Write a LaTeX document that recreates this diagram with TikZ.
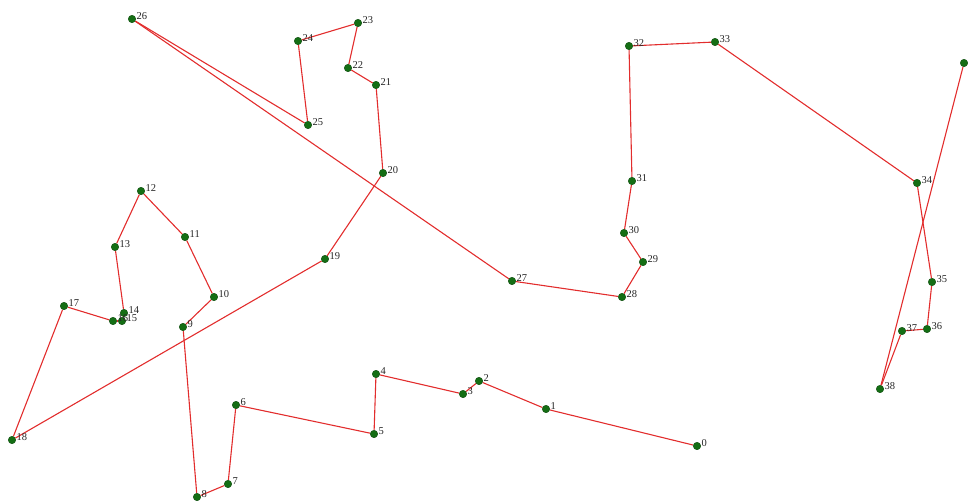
\documentclass[tikz,border=0pt]{standalone}
\usepackage{fontspec}
\setmainfont{Liberation Serif}
\usetikzlibrary{backgrounds}
\definecolor{tourred}{RGB}{226,45,45}
\definecolor{citygreen}{RGB}{20,110,20}

\begin{document}
\begin{tikzpicture}[
  x=1pt, y=-1pt,
  city/.style={circle, fill=citygreen, draw=citygreen!70!black, line width=0.4pt,
               inner sep=0pt, minimum size=7.5pt},
  tour/.style={draw=tourred, line width=1.1pt},
  num/.style={font=\fontsize{10.5}{10.5}\selectfont, text=black!85, anchor=base west, inner sep=0pt},
]

\useasboundingbox (0,0) rectangle (969,501);

% === Cities ===
\foreach \x/\y [count=\i from 0] in {
  697/446, 546/409, 479/381, 463/394, 376/374, 374/434, 236/405, 228/484,
  197/497, 183/327, 214/297, 185/237, 141/191, 115/247, 124/313, 122/321,
  113/321, 64/306, 12/440, 325/259, 383/173, 376/85, 348/68, 358/23,
  298/41, 308/125, 132/19, 512/281, 622/297, 643/262, 624/233, 632/181,
  629/46, 715/42, 917/183, 932/282, 927/329, 902/331, 880/389, 964/63}
{
  \node[city] (c\i) at (\x,\y) {};
  \node[num] (n\i) at (\x+4.5,\y+0.5) {\i};
}

% === Tour ===
\begin{scope}[on background layer]
  \foreach \i [evaluate=\i as \j using int(\i+1)] in {0,...,38}
    \draw[tour] (c\i) -- (c\j);
\end{scope}

\end{tikzpicture}
\end{document}
